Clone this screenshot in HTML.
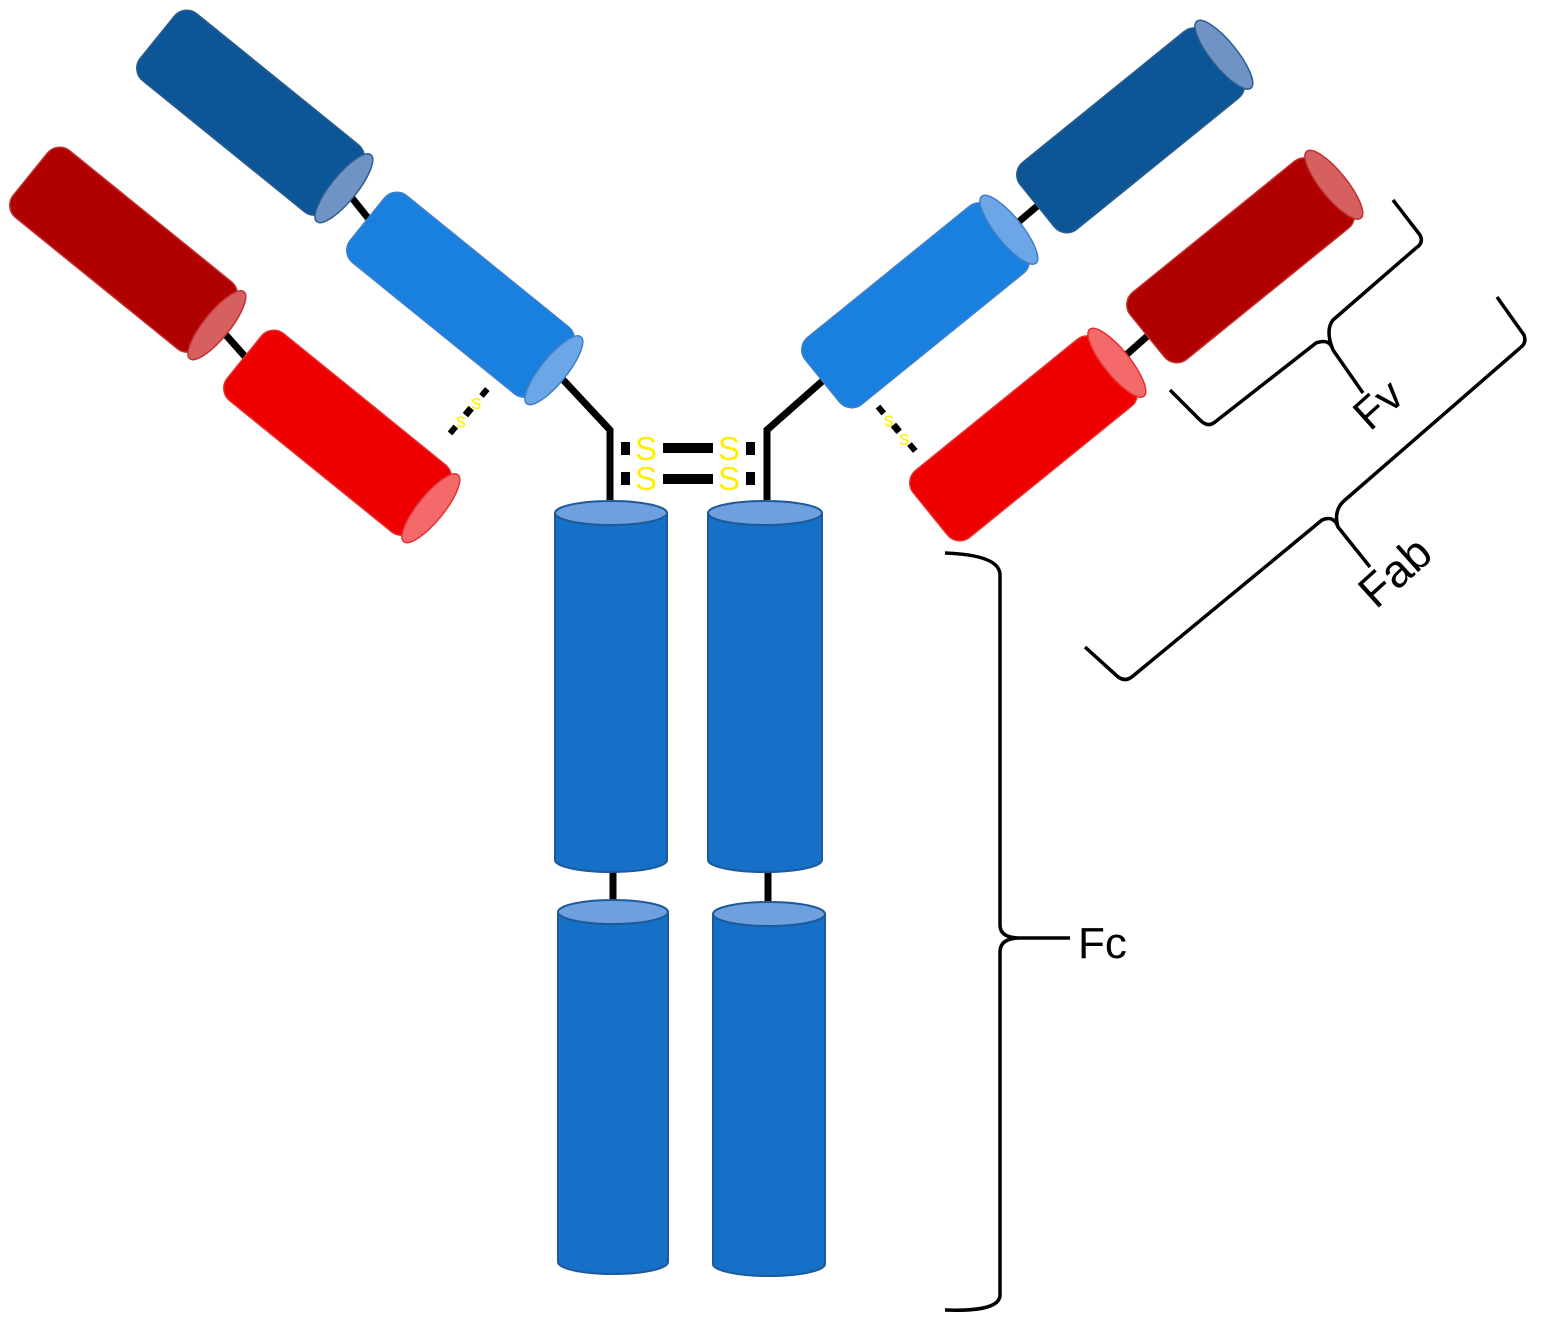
<!DOCTYPE html>
<html><head><meta charset="utf-8"><style>html,body{margin:0;padding:0;background:#fff}svg{display:block}</style></head>
<body>
<svg width="1557" height="1333" viewBox="0 0 1557 1333" xmlns="http://www.w3.org/2000/svg">
<!-- connectors -->
<g stroke="#000" stroke-width="7" fill="none">
<line x1="344" y1="188" x2="372" y2="223"/>
<line x1="217" y1="325" x2="249" y2="361"/>
<polyline points="554,370 610,430 610,500"/>
<line x1="1009" y1="230" x2="1042" y2="202"/>
<line x1="1117" y1="363" x2="1152" y2="332"/>
<polyline points="827,377 767,430 767,500"/>
<line x1="613" y1="865" x2="613" y2="910"/>
<line x1="768" y1="865" x2="768" y2="910"/>
</g>
<!-- left arm cylinders -->
<g transform="translate(162,41) rotate(39)">
<rect x="-6" y="-43" width="240" height="86" rx="16" fill="#0c5597" stroke="#2b5d8e" stroke-width="1.5"/>
<ellipse cx="234" cy="0" rx="13" ry="43" fill="#6f93c4" stroke="#2b5d8e" stroke-width="1.5"/>
</g>
<g transform="translate(372,223) rotate(39)">
<rect x="-6" y="-43" width="240" height="86" rx="16" fill="#1a80e0" stroke="#3d7fc8" stroke-width="1.5"/>
<ellipse cx="234" cy="0" rx="13" ry="43" fill="#6da6e6" stroke="#3d7fc8" stroke-width="1.5"/>
</g>
<g transform="translate(35,178) rotate(39)">
<rect x="-6" y="-43" width="240" height="86" rx="16" fill="#b00000" stroke="#c23030" stroke-width="1.5"/>
<ellipse cx="234" cy="0" rx="13" ry="43" fill="#d66060" stroke="#c23030" stroke-width="1.5"/>
</g>
<g transform="translate(249,361) rotate(39)">
<rect x="-6" y="-43" width="240" height="86" rx="16" fill="#ee0000" stroke="#e53030" stroke-width="1.5"/>
<ellipse cx="234" cy="0" rx="13" ry="43" fill="#f46a6a" stroke="#e53030" stroke-width="1.5"/>
</g>
<!-- right arm cylinders -->
<g transform="translate(1042,202) rotate(-39)">
<rect x="-6" y="-43" width="240" height="86" rx="16" fill="#0c5597" stroke="#2b5d8e" stroke-width="1.5"/>
<ellipse cx="234" cy="0" rx="13" ry="43" fill="#6f93c4" stroke="#2b5d8e" stroke-width="1.5"/>
</g>
<g transform="translate(827,377) rotate(-39)">
<rect x="-6" y="-43" width="240" height="86" rx="16" fill="#1a80e0" stroke="#3d7fc8" stroke-width="1.5"/>
<ellipse cx="234" cy="0" rx="13" ry="43" fill="#6da6e6" stroke="#3d7fc8" stroke-width="1.5"/>
</g>
<g transform="translate(1152,332) rotate(-39)">
<rect x="-6" y="-43" width="240" height="86" rx="16" fill="#b00000" stroke="#c23030" stroke-width="1.5"/>
<ellipse cx="234" cy="0" rx="13" ry="43" fill="#d66060" stroke="#c23030" stroke-width="1.5"/>
</g>
<g transform="translate(935,510) rotate(-39)">
<rect x="-6" y="-43" width="240" height="86" rx="16" fill="#ee0000" stroke="#e53030" stroke-width="1.5"/>
<ellipse cx="234" cy="0" rx="13" ry="43" fill="#f46a6a" stroke="#e53030" stroke-width="1.5"/>
</g>
<!-- Fc cylinders -->
<g fill="#1570c8" stroke="#1d5a9c" stroke-width="2">
<path d="M555,513 L555,860 A56,12 0 0 0 667,860 L667,513 Z"/>
<ellipse cx="611" cy="513" rx="56" ry="12" fill="#6ea0de"/>
<path d="M558,912 L558,1262 A55,12 0 0 0 668,1262 L668,912 Z"/>
<ellipse cx="613" cy="912" rx="55" ry="12" fill="#6ea0de"/>
<path d="M708,513 L708,860 A57,12 0 0 0 822,860 L822,513 Z"/>
<ellipse cx="765" cy="513" rx="57" ry="12" fill="#6ea0de"/>
<path d="M713,914 L713,1264 A56,12 0 0 0 825,1264 L825,914 Z"/>
<ellipse cx="769" cy="914" rx="56" ry="12" fill="#6ea0de"/>
</g>
<!-- hinge disulfides -->
<g fill="#000">
<rect x="621" y="442" width="9" height="13"/>
<rect x="621" y="472" width="9" height="13"/>
<rect x="663" y="443" width="50" height="10"/>
<rect x="663" y="474" width="50" height="10"/>
<rect x="746" y="442" width="9" height="13"/>
<rect x="746" y="472" width="9" height="13"/>
</g>
<g fill="#ffee00" font-family="Liberation Sans, sans-serif" font-size="33" text-anchor="middle">
<text x="646" y="460">S</text><text x="646" y="490">S</text>
<text x="729" y="460">S</text><text x="729" y="490">S</text>
</g>
<!-- interchain dotted disulfides -->
<g transform="translate(468,412) rotate(-50)">
<rect x="-28" y="-3" width="9" height="6" fill="#000"/>
<rect x="-4" y="-3.5" width="9" height="7" fill="#000"/>
<rect x="21" y="-3" width="9" height="6" fill="#000"/>
<text x="-11" y="7" font-size="20" fill="#ffee00" text-anchor="middle" font-family="Liberation Sans, sans-serif" transform="rotate(50 -11 0)">s</text>
<text x="13" y="7" font-size="20" fill="#ffee00" text-anchor="middle" font-family="Liberation Sans, sans-serif" transform="rotate(50 13 0)">s</text>
</g>
<g transform="translate(896,428) rotate(50)">
<rect x="-28" y="-3" width="9" height="6" fill="#000"/>
<rect x="-4" y="-3.5" width="9" height="7" fill="#000"/>
<rect x="21" y="-3" width="9" height="6" fill="#000"/>
<text x="-11" y="7" font-size="20" fill="#ffee00" text-anchor="middle" font-family="Liberation Sans, sans-serif" transform="rotate(-50 -11 0)">s</text>
<text x="13" y="7" font-size="20" fill="#ffee00" text-anchor="middle" font-family="Liberation Sans, sans-serif" transform="rotate(-50 13 0)">s</text>
</g>
<!-- brackets -->
<g stroke="#000" stroke-width="3.5" fill="none" stroke-linejoin="round">
<path d="M945,553 Q1000,555 1000,575 L1000,925 Q1000,938 1020,938 L1070,938 M1020,938 Q1000,938 1000,952 L1000,1295 Q1000,1312 945,1310"/>
<path d="M1393,200 L1420,235 Q1424,243 1416,248 L1333,320 Q1325,330 1333,350 L1363,393 M1333,350 Q1330,338 1316,343 L1215,422 Q1208,428 1200,420 L1170,390"/>
<path d="M1497,297 L1524,335 Q1527,343 1520,348 L1345,500 Q1333,510 1338,527 L1370,567 M1338,527 Q1334,515 1322,520 L1133,676 Q1125,683 1117,676 L1085,647"/>
</g>
<g font-family="Liberation Sans, sans-serif" fill="#000">
<text x="1078" y="958" font-size="44">Fc</text>
<text x="0" y="0" font-size="44" transform="translate(1370,432) rotate(-42)">Fv</text>
<text x="0" y="0" font-size="46" transform="translate(1376,610) rotate(-42)">Fab</text>
</g>
</svg>
</body></html>
